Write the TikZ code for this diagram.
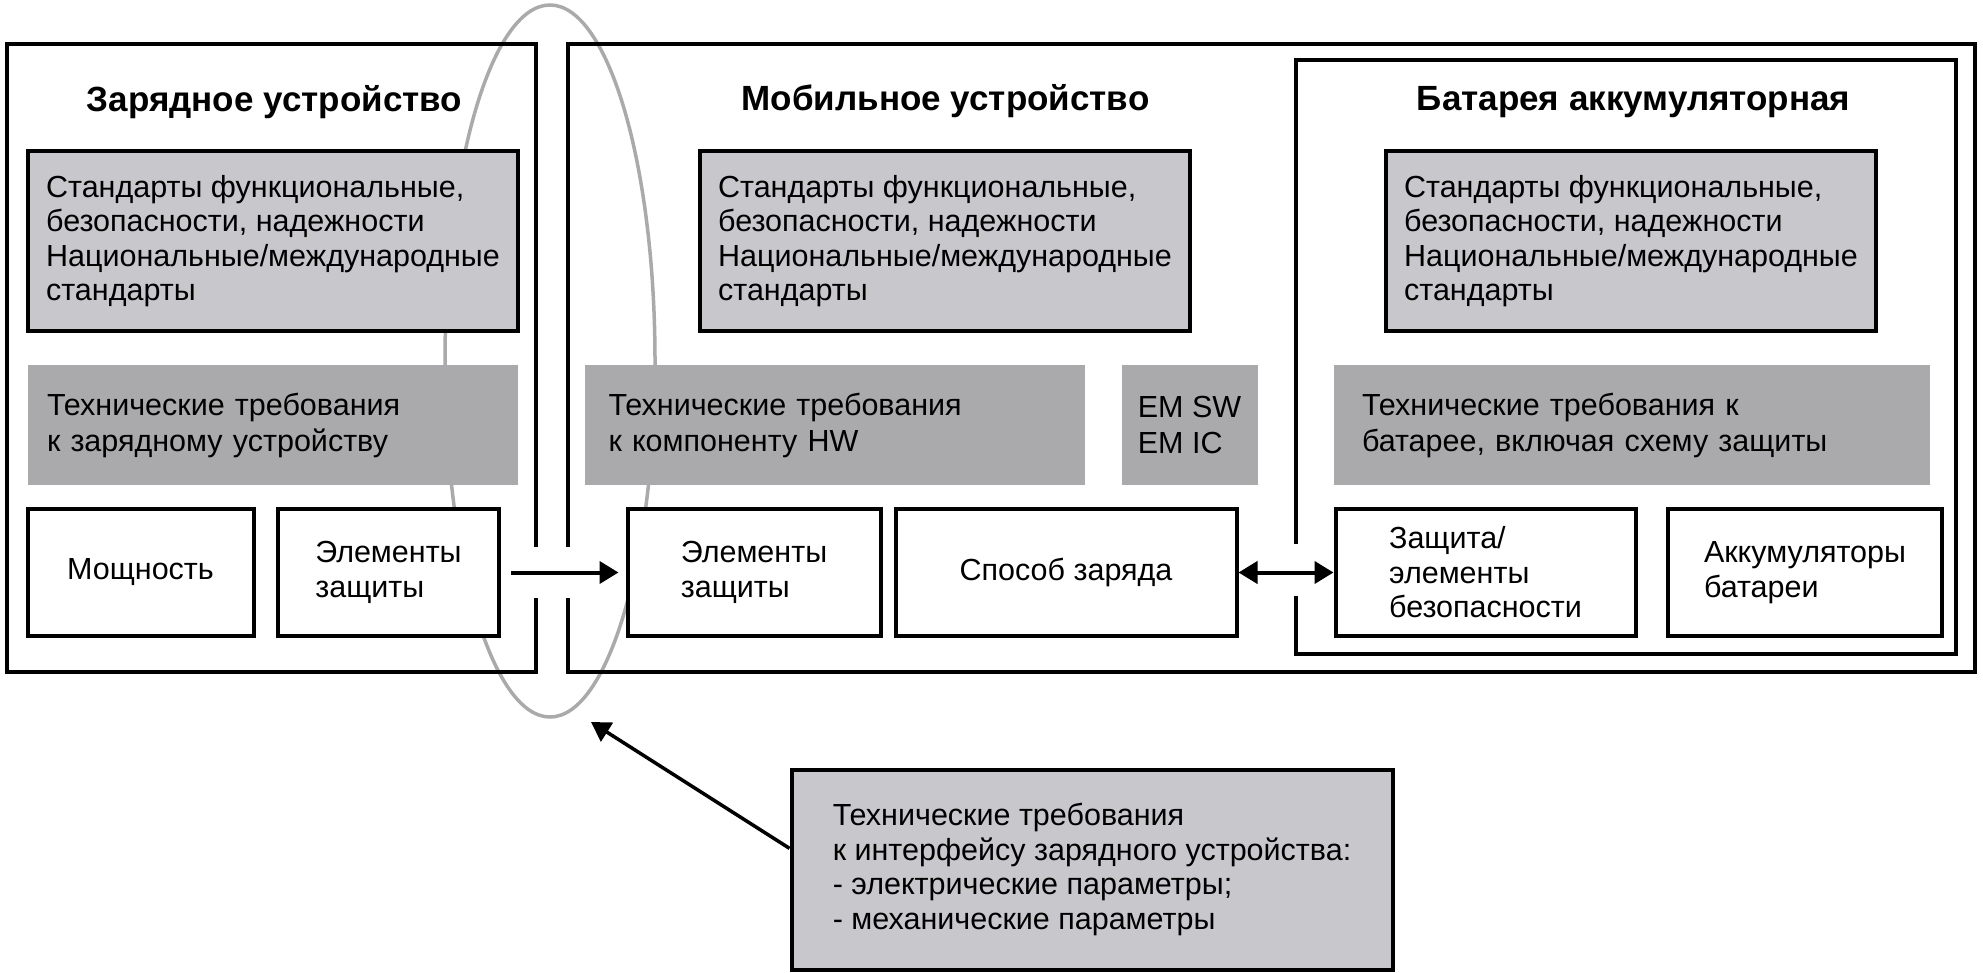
\documentclass[tikz,border=0pt]{standalone}
\usepackage{fontspec}
\setmainfont{Liberation Sans}
\usetikzlibrary{arrows.meta,shapes.geometric}
\definecolor{stdgray}{RGB}{200,200,204}
\definecolor{techgray}{RGB}{170,170,172}
\definecolor{ovalgray}{RGB}{170,170,170}
\hyphenpenalty=10000
\exhyphenpenalty=10000
\begin{document}
\begin{tikzpicture}[x=1pt,y=-1pt,
    every node/.style={font=\fontsize{30.5}{34.5}\selectfont},
    title/.style={font=\fontsize{35}{40}\selectfont\bfseries},
    stdbox/.style={draw,line width=4pt,fill=stdgray,align=left,minimum width=490pt,minimum height=180pt},
    techbox/.style={fill=techgray,align=left,minimum height=119pt,font=\fontsize{30.5}{36}\selectfont},
    partbox/.style={draw,line width=4pt,fill=white,align=left,minimum height=127pt},
    frame/.style={line width=4pt},
    arr/.style={line width=4pt,-{Triangle[length=19pt,width=22pt]}}]
  \useasboundingbox (0,0) rectangle (1983,973);
  \node[draw=ovalgray,line width=3.5pt,ellipse,inner sep=0pt,minimum width=210pt,minimum height=712pt] (iface) at (550,361) {};
  \draw[frame] (536,547) -- (536,44) -- (6.5,44) -- (6.5,672) -- (536,672) -- (536,598);
  \draw[frame] (568,547) -- (568,44) -- (1975,44) -- (1975,672) -- (568,672) -- (568,598);
  \draw[line width=3.5pt] (1296,544) -- (1296,60) -- (1956,60) -- (1956,654) -- (1296,654) -- (1296,596);
  \node[title] (chargerT) at (274.5,102) {Зарядное устройство};
  \node[title] (mobileT) at (945.5,101) {Мобильное устройство};
  \node[title] (batteryT) at (1633.5,102) {Батарея аккумуляторная};
  \node[stdbox] (stdL) at (273,241) {Стандарты функциональные,\\безопасности, надежности\\Национальные/международные\\стандарты};
  \node[stdbox] (stdM) at (945,241) {Стандарты функциональные,\\безопасности, надежности\\Национальные/международные\\стандарты};
  \node[stdbox] (stdR) at (1631,241) {Стандарты функциональные,\\безопасности, надежности\\Национальные/международные\\стандарты};
  \node[techbox,inner xsep=19pt,text width=452pt] (techL) at (273,425) {Технические требования\\к зарядному устройству};
  \node[techbox,inner xsep=24pt,text width=452pt] (techM) at (834.5,425) {Технические требования\\к компоненту HW};
  \node[techbox,minimum width=136pt] (emT) at (1189.5,425) {EM SW\\EM IC};
  \node[techbox,inner xsep=28pt,text width=540pt] (techR) at (1632,425) {Технические требования к\\батарее, включая схему защиты};
  \node[partbox,minimum width=226pt] (power) at (140.5,572.5) {Мощность};
  \node[partbox,minimum width=221pt] (protL) at (388.5,572.5) {Элементы\\защиты};
  \node[partbox,minimum width=253pt] (protM) at (754,572.5) {Элементы\\защиты};
  \node[partbox,minimum width=341pt] (chargeWay) at (1066,572.5) {Способ заряда};
  \node[partbox,minimum width=300pt] (safety) at (1485.5,572.5) {Защита/\\элементы\\безопасности};
  \node[partbox,minimum width=274pt] (cells) at (1805,572.5) {Аккумуляторы\\батареи};
  \node[draw,line width=4pt,fill=stdgray,align=left,minimum width=601pt,minimum height=200pt] (callout) at (1092,869.5) {Технические требования\\к интерфейсу зарядного устройства:\\- электрические параметры;\\- механические параметры};
  \coordinate (tip) at (591,722);
  \draw[arr,shorten <=10pt,shorten >=7pt] (protL.east) -- (protM.west);
  \draw[arr,{Triangle[length=19pt,width=22pt]}-{Triangle[length=19pt,width=22pt]}] (chargeWay.east) -- (safety.west);
  \draw[arr,line width=3.5pt] (callout.176) -- (tip);
\end{tikzpicture}
\end{document}
